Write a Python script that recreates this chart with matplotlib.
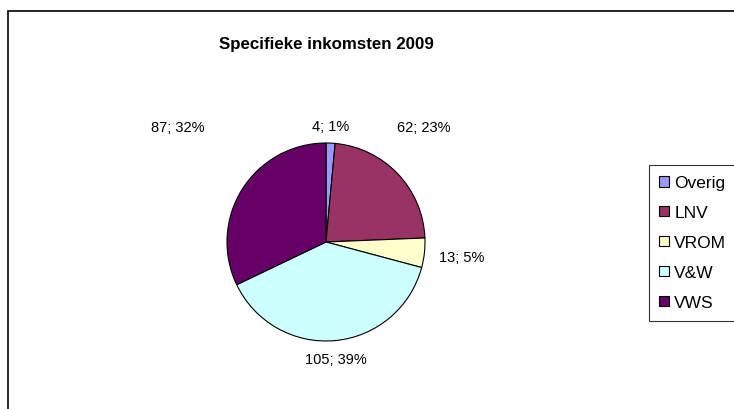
import matplotlib
matplotlib.use("Agg")
import matplotlib.pyplot as plt
from matplotlib.patches import Rectangle

plt.rcParams['font.family'] = ['Liberation Sans', 'DejaVu Sans']

# data
categories = ['Overig', 'LNV', 'VROM', 'V&W', 'VWS']
values = [4, 62, 13, 105, 87]
percents = [1, 23, 5, 39, 32]
colors = ['#9999FF', '#993366', '#FFFFCC', '#CCFFFF', '#660066']

W, H = 734, 410
fig = plt.figure(figsize=(W / 100, H / 100), dpi=100)

# outer chart border (cut off at right and bottom)
fig.patches.append(Rectangle((8 / W, -0.1), 1.2, (H - 12) / H + 0.1,
                             transform=fig.transFigure, fill=False,
                             edgecolor='black', linewidth=1.2))

fig.text(326 / W, 1 - 44 / H, 'Specifieke inkomsten 2009', ha='center',
         va='center', fontsize=12.2, fontweight='bold')

# pie axes: center (326, 243), radius 99 px
r = 99
ax = fig.add_axes([(326 - r) / W, (H - 243 - r) / H, 2 * r / W, 2 * r / H])
wedges, _ = ax.pie(values, colors=colors, startangle=90, counterclock=False,
                   wedgeprops=dict(edgecolor='black', linewidth=0.8))
ax.set_xlim(-1, 1)
ax.set_ylim(-1, 1)
ax.set_aspect('auto')
ax.axis('off')

# label positions (axes data units, radius = 1)
label_pos = [(0.05, 1.17), (0.99, 1.16), (1.37, -0.15), (0.10, -1.18), (-1.5, 1.16)]
for (x, y), v, p in zip(label_pos, values, percents):
    ax.text(x, y, f'{v}; {p}%', ha='center', va='center', fontsize=10.5,
            clip_on=False)

leg = fig.legend(wedges, categories, loc='upper left',
                 bbox_to_anchor=(649 / W, 1 - 166 / H), frameon=True,
                 fancybox=False, edgecolor='black', fontsize=12.5,
                 handlelength=0.55, handleheight=0.55, handletextpad=0.3,
                 labelspacing=0.86, borderpad=0.6, borderaxespad=0)
leg.get_frame().set_linewidth(0.8)

fig.savefig('out.png', dpi=100)
